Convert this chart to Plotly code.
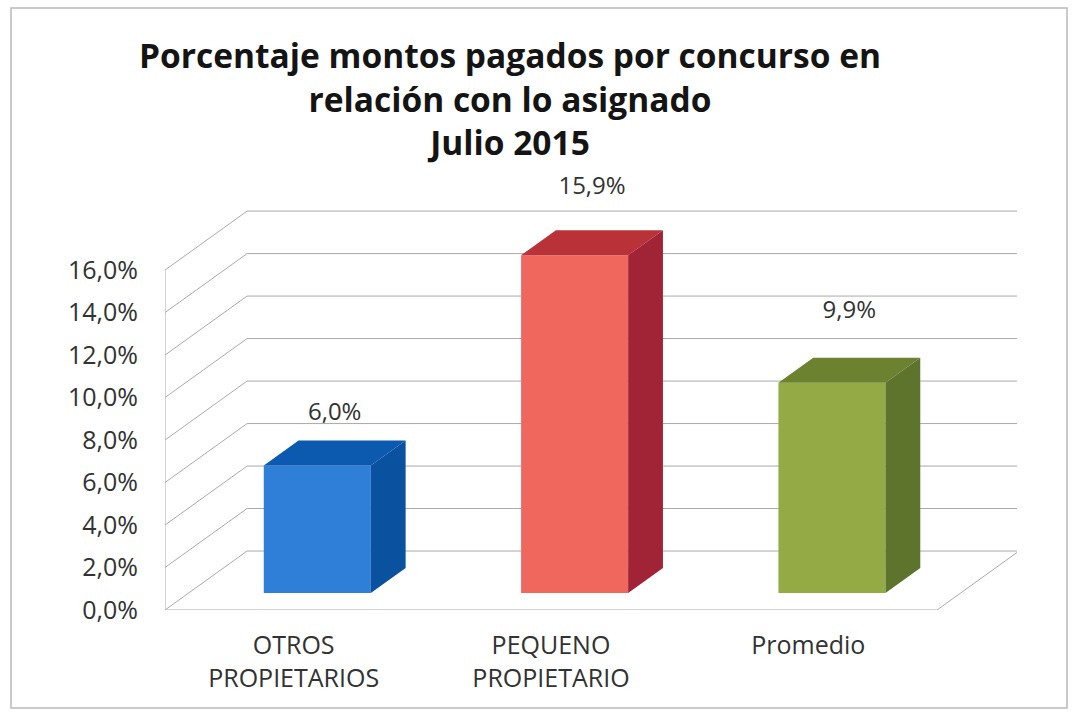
"""Oblique 3D-look column chart of amounts paid per contest, drawn with Plotly."""

import plotly.graph_objects as go

TITLE = "Porcentaje montos pagados por concurso en<br>relación con lo asignado<br>Julio 2015"
CATEGORIES = ["OTROS<br>PROPIETARIOS", "PEQUENO<br>PROPIETARIO", "Promedio"]
VALUES = [6.0, 15.9, 9.9]
VALUE_LABELS = ["6,0%", "15,9%", "9,9%"]
TICK_VALUES = [0, 2, 4, 6, 8, 10, 12, 14, 16]
TICK_LABELS = ["0,0%", "2,0%", "4,0%", "6,0%", "8,0%", "10,0%", "12,0%", "14,0%", "16,0%"]

WIDTH = 1072
HEIGHT = 712
FONT = "Open Sans"
TEXT_COLOR = "rgb(50, 50, 50)"
GRID_COLOR = "rgb(170, 170, 170)"
FRONT_COLORS = ["rgb(47, 126, 216)", "rgb(240, 103, 94)", "rgb(148, 170, 68)"]
TOP_COLORS = ["rgb(12, 90, 176)", "rgb(184, 50, 56)", "rgb(108, 130, 48)"]
SIDE_COLORS = ["rgb(10, 82, 160)", "rgb(160, 36, 54)", "rgb(94, 116, 44)"]

# Oblique projection: how far the floor depth shifts a point, in axis units.
DEPTH_X = 0.319
DEPTH_Y = 2.776
BAR_WIDTH = 0.416
BAR_INSET = 0.288
BAR_DEPTH = 0.424
# Manual height of each value label above its bar, as in the original.
LABEL_LIFT = [3.22, 3.96, 4.12]

# The y range runs past the walls so the tallest label stays inside the axes.
X_RANGE = [-0.5, 2.811]
Y_RANGE = [0, 20.71]
FLOOR_RIGHT = 2.5


def grid_shape(xs, ys):
    """Return a wall or floor line that stays below the bars."""
    path = "M " + " L ".join(f"{x},{y}" for x, y in zip(xs, ys))
    return {
        "type": "path",
        "path": path,
        "xref": "x",
        "yref": "y",
        "layer": "below",
        "line": {"color": GRID_COLOR, "width": 1},
    }


fig = go.Figure()

shapes = []
for tick in TICK_VALUES:
    shapes.append(
        grid_shape(
            [X_RANGE[0], X_RANGE[0] + DEPTH_X, X_RANGE[1]],
            [tick, tick + DEPTH_Y, tick + DEPTH_Y],
        )
    )
# Front edges of the left wall and the floor, then the right floor edge.
shapes.append(grid_shape([X_RANGE[0], X_RANGE[0]], [0, TICK_VALUES[-1]]))
shapes.append(
    grid_shape(
        [X_RANGE[0], FLOOR_RIGHT, FLOOR_RIGHT + DEPTH_X],
        [0, 0, DEPTH_Y],
    )
)
shapes.append(
    {
        "type": "rect",
        "xref": "paper",
        "yref": "paper",
        "x0": 11 / WIDTH,
        "x1": 1067 / WIDTH,
        "y0": 1 - 708 / HEIGHT,
        "y1": 1 - 8 / HEIGHT,
        "layer": "below",
        "line": {"color": "rgb(185, 185, 185)", "width": 1.5},
    }
)

positions = list(range(len(VALUES)))
base = BAR_INSET * DEPTH_Y
shift_x = BAR_DEPTH * DEPTH_X
shift_y = BAR_DEPTH * DEPTH_Y

fig.add_trace(
    go.Bar(
        x=[pos + BAR_INSET * DEPTH_X for pos in positions],
        y=VALUES,
        base=base,
        width=BAR_WIDTH,
        marker={"color": FRONT_COLORS, "line": {"width": 0}},
        hoverinfo="skip",
        showlegend=False,
    )
)

for pos, value, top_color, side_color in zip(positions, VALUES, TOP_COLORS, SIDE_COLORS):
    left = pos + BAR_INSET * DEPTH_X - BAR_WIDTH / 2
    right = left + BAR_WIDTH
    top = base + value
    fig.add_trace(
        go.Scatter(
            x=[left, right, right + shift_x, left + shift_x, left],
            y=[top, top, top + shift_y, top + shift_y, top],
            mode="lines",
            fill="toself",
            fillcolor=top_color,
            line={"width": 0},
            hoverinfo="skip",
            showlegend=False,
        )
    )
    fig.add_trace(
        go.Scatter(
            x=[right, right + shift_x, right + shift_x, right, right],
            y=[base, base + shift_y, top + shift_y, top, base],
            mode="lines",
            fill="toself",
            fillcolor=side_color,
            line={"width": 0},
            hoverinfo="skip",
            showlegend=False,
        )
    )

fig.add_trace(
    go.Scatter(
        x=[pos + (BAR_INSET + BAR_DEPTH / 2) * DEPTH_X for pos in positions],
        y=[value + lift for value, lift in zip(VALUES, LABEL_LIFT)],
        mode="text",
        text=VALUE_LABELS,
        textposition="middle center",
        textfont={"family": FONT, "size": 24, "color": TEXT_COLOR},
        cliponaxis=False,
        hoverinfo="skip",
        showlegend=False,
    )
)

fig.update_layout(
    width=WIDTH,
    height=HEIGHT,
    margin={"l": 0, "r": 0, "t": 0, "b": 0},
    paper_bgcolor="white",
    plot_bgcolor="rgba(0, 0, 0, 0)",
    font={"family": FONT, "color": TEXT_COLOR},
    title={
        "text": TITLE,
        "font": {"family": FONT, "size": 33.5, "color": "rgb(20, 20, 20)", "weight": "bold"},
        "x": 510 / WIDTH,
        "xanchor": "center",
        "y": 1 - 68 / HEIGHT,
        "yanchor": "top",
    },
    shapes=shapes,
)
# Automargin stays off, it would shrink the plot area and shift the pixel layout.
fig.update_xaxes(
    automargin=False,
    domain=[165 / WIDTH, 1017 / WIDTH],
    range=X_RANGE,
    tickmode="array",
    tickvals=positions,
    ticktext=CATEGORIES,
    tickfont={"family": FONT, "size": 25, "color": TEXT_COLOR},
    ticks="",
    ticklabelstandoff=18,
    showgrid=False,
    zeroline=False,
    showline=False,
)
fig.update_yaxes(
    automargin=False,
    domain=[1 - 610 / HEIGHT, 1 - 170 / HEIGHT],
    range=Y_RANGE,
    tickmode="array",
    tickvals=TICK_VALUES,
    ticktext=TICK_LABELS,
    tickfont={"family": FONT, "size": 25, "color": TEXT_COLOR},
    ticks="",
    ticklabelstandoff=26,
    showgrid=False,
    zeroline=False,
    showline=False,
)

# The page keeps the browser's default body margin otherwise.
fig.write_html(
    "out.html",
    default_width=f"{WIDTH}px",
    default_height=f"{HEIGHT}px",
    config={"displayModeBar": False},
    post_script="document.body.style.margin = '0';",
)
